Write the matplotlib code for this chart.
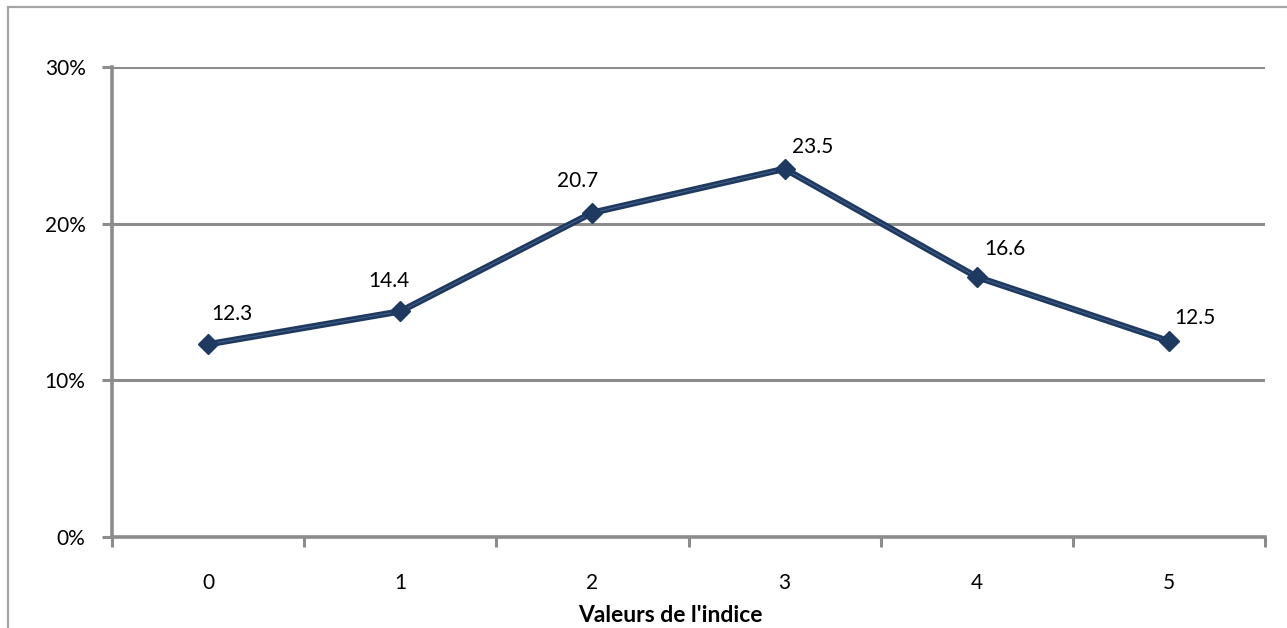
import matplotlib
matplotlib.use("Agg")
import matplotlib.pyplot as plt
from matplotlib.ticker import FuncFormatter, FixedLocator
from matplotlib.lines import Line2D

categories = ["0", "1", "2", "3", "4", "5"]
values = [12.3, 14.4, 20.7, 23.5, 16.6, 12.5]  # percent
value_labels = ["12.3", "14.4", "20.7", "23.5", "16.6", "12.5"]
y_ticks = [0, 10, 20, 30]
x_title = "Valeurs de l'indice"

# label offsets (points) - layout only
label_offsets = [(17, 22), (-8, 22), (-11, 23), (20, 16), (20, 20), (19, 17)]

plt.rcParams['font.family'] = ['Lato', 'DejaVu Sans']
FS = 15

W, H = 1287, 628
fig = plt.figure(figsize=(W / 100, H / 100), dpi=100)
fig.patch.set_facecolor("white")

# outer frame (top and left edges)
border_col = "#A6A6A6"
fig.add_artist(Line2D([8 / W, 1.0], [1 - 7 / H, 1 - 7 / H], color=border_col, lw=1.6, transform=fig.transFigure))
fig.add_artist(Line2D([8 / W, 8 / W], [0, 1 - 7 / H], color=border_col, lw=1.6, transform=fig.transFigure))

ax = fig.add_axes([112 / W, (H - 537) / H, (1265 - 112) / W, (537 - 67) / H])

x = list(range(len(categories)))
grid_col = "#8C8C8C"
ax.set_xlim(-0.5, len(categories) - 0.5)
ax.set_ylim(0, 30)
ax.yaxis.set_major_locator(FixedLocator(y_ticks))
ax.yaxis.set_major_formatter(FuncFormatter(lambda v, p: f"{v:.0f}%"))
ax.grid(axis="y", color=grid_col, lw=2.2)
ax.set_axisbelow(True)

ax.set_xticks([i - 0.5 for i in range(len(categories) + 1)])
ax.set_xticklabels([])
ax.set_xticks(x, minor=True)
ax.set_xticklabels(categories, minor=True)
ax.tick_params(axis="x", which="major", length=7, width=2.2, color=grid_col, direction="out")
ax.tick_params(axis="x", which="minor", length=0, pad=26, labelsize=FS)
ax.tick_params(axis="y", length=7, width=2.2, color=grid_col, direction="out", labelsize=FS, pad=12)

for s in ["top", "right"]:
    ax.spines[s].set_visible(False)
for s in ["left", "bottom"]:
    ax.spines[s].set_color(grid_col)
    ax.spines[s].set_linewidth(2.6)

line_col = "#1F3A60"
ax.plot(x, values, color=line_col, lw=4.6, zorder=3)
ax.plot(x, values, color="#4A6790", lw=0.6, zorder=4)
ax.plot(x, values, linestyle="none", marker="D", markersize=10,
        markerfacecolor=line_col, markeredgecolor=line_col, zorder=5)

for xi, v, lab, off in zip(x, values, value_labels, label_offsets):
    ax.annotate(lab, (xi, v), xytext=off, textcoords="offset points",
                ha="center", va="center", fontsize=FS, color="black")

ax.set_xlabel(x_title, fontsize=16.5, fontweight="bold", labelpad=9)
ax.xaxis.set_label_coords(0.484, -0.145)

fig.savefig("out.png", dpi=100, facecolor="white")
